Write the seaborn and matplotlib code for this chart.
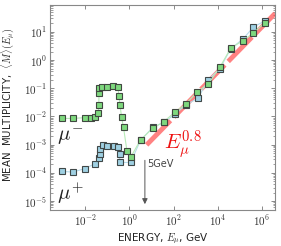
import numpy as np
import pandas as pd
import seaborn as sns
import matplotlib.pyplot as plt
from matplotlib import ticker

# values (log10 units)
log_e_minus = [-3.05, -2.56, -2.0, -1.73, -1.55, -1.41, -1.39, -1.38, -1.36, -1.23,
               -1.0, -0.73, -0.52, -0.48, -0.43, -0.36, -0.27, -0.11, 0.05, 0.5,
               1.05, 1.55, 2.05, 2.55, 3.08, 3.58, 4.1, 4.59, 5.15, 5.62, 6.14]
log_m_minus = [-2.07, -2.07, -2.04, -2.07, -2.02, -1.89, -1.58, -1.16, -1.0, -0.97,
               -0.95, -0.93, -0.97, -1.27, -1.58, -2.02, -2.39, -3.24, -3.45, -2.83,
               -2.42, -2.19, -1.85, -1.56, -1.12, -0.84, -0.25, 0.42, 0.69, 0.96, 1.33]

log_e_plus = [-3.05, -2.56, -2.03, -1.55, -1.40, -1.35, -1.32, -1.20, -1.01, -0.71,
              -0.5, -0.45, -0.44, 0.05, 0.5, 1.05, 1.55, 2.05, 2.55, 3.1,
              3.58, 4.1, 4.59, 5.15, 5.62, 6.14]
log_m_plus = [-3.95, -3.97, -3.85, -3.67, -3.46, -3.34, -3.17, -3.02, -3.04, -3.05,
              -3.08, -3.34, -3.63, -3.63, -2.85, -2.39, -2.21, -1.93, -1.59, -1.36,
              -0.69, -0.30, 0.40, 0.75, 1.17, 1.39]

x_tick_pows = [-2, 0, 2, 4, 6]
y_tick_pows = [-5, -4, -3, -2, -1, 0, 1]

fit_exp = 0.8
fit_log_norm = -3.63
fit_range = [6.0, 4e6]

df_minus = pd.DataFrame({'E': 10 ** np.array(log_e_minus), 'M': 10 ** np.array(log_m_minus)})
df_plus = pd.DataFrame({'E': 10 ** np.array(log_e_plus), 'M': 10 ** np.array(log_m_plus)})
e_fit = np.logspace(np.log10(fit_range[0]), np.log10(fit_range[1]), 50)
df_fit = pd.DataFrame({'E': e_fit, 'M': 10 ** fit_log_norm * e_fit ** fit_exp})

sns.set_style('ticks')
plt.rcParams['mathtext.fontset'] = 'cm'
plt.rcParams['font.family'] = ['DejaVu Sans']

fig = plt.figure(figsize=(2.81, 2.46), dpi=100)
ax = fig.add_axes([0.178, 0.146, 0.801, 0.834])

sns.lineplot(data=df_fit, x='E', y='M', ax=ax, sort=False, color='#ff4040',
             alpha=0.65, lw=3.5, zorder=1)
ax.lines[-1].set_dashes([7, 1.0])

green_line = '#b8ecb8'
blue_line = '#b8dcea'
sns.lineplot(data=df_plus, x='E', y='M', ax=ax, sort=False, estimator=None,
             color=blue_line, lw=0.8, marker='s', ms=4.4, mfc='#9fd0e2',
             mec='#404848', mew=0.8, zorder=2)
sns.lineplot(data=df_minus, x='E', y='M', ax=ax, sort=False, estimator=None,
             color=green_line, lw=0.8, marker='s', ms=4.4, mfc='#7ed87e',
             mec='#404840', mew=0.8, zorder=3)

ax.set_xscale('log')
ax.set_yscale('log')
ax.set_xlim(2.5e-4, 4e6)
ax.set_ylim(4.8e-6, 9e1)

# minor y ticks only inside the view
minor_y = [m * 10.0 ** p for p in range(-6, 2) for m in range(2, 10)]
minor_y = [v for v in minor_y if 4.8e-6 < v < 9e1]

ax.set_xticks([10.0 ** p for p in x_tick_pows])
ax.set_xticklabels([r'$10^{%d}$' % p for p in x_tick_pows])
ax.xaxis.set_minor_locator(ticker.NullLocator())
ax.set_yticks([10.0 ** p for p in y_tick_pows])
ax.set_yticklabels([r'$10^{%d}$' % p for p in y_tick_pows])
ax.set_yticks(minor_y, minor=True)
ax.yaxis.set_minor_formatter(ticker.NullFormatter())
ax.tick_params(which='both', direction='in', top=True, right=True, colors='#777777',
               labelcolor='#333333', labelsize=8, pad=2)
ax.tick_params(which='major', length=3, width=0.6)
ax.tick_params(which='minor', length=1.8, width=0.5)
for sp in ax.spines.values():
    sp.set_color('#888888')
    sp.set_linewidth(0.8)

ax.set_xlabel(r'ENERGY, $E_{\mu}$, GeV', fontsize=7.5, color='#222222')
ax.set_ylabel(r'MEAN  MULTIPLICITY,  $\langle M \rangle (E_{\mu})$', fontsize=7.3,
              color='#222222')
ax.xaxis.set_label_coords(0.5, -0.105)
ax.yaxis.set_label_coords(-0.15, 0.515)

ax.text(0.03, 0.335, r'$\mu^{-}$', transform=ax.transAxes, fontsize=15, color='#222222')
ax.text(0.03, 0.05, r'$\mu^{+}$', transform=ax.transAxes, fontsize=15, color='#222222')
ax.text(0.505, 0.295, r'$E_{\mu}^{0.8}$', transform=ax.transAxes, fontsize=15, color='#ee1111')

ax.annotate('', xy=(5, 6.2e-6), xytext=(5, 3.5e-4),
            arrowprops=dict(arrowstyle='-|>', color='#555555', lw=0.7, mutation_scale=8))
ax.text(6.5, 1.6e-4, '5GeV', fontsize=7, color='#444444')

fig.savefig('out.png', dpi=100)
